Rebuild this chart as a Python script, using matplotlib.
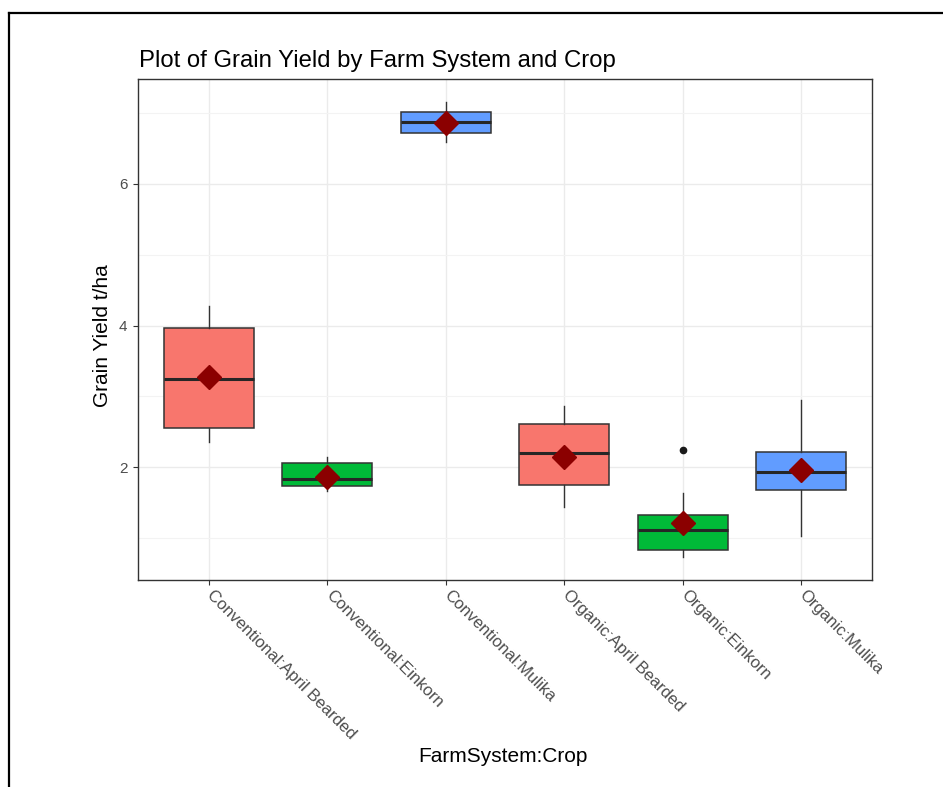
import matplotlib.pyplot as plt
from matplotlib.lines import Line2D
from matplotlib.transforms import Bbox, TransformedBbox, ScaledTranslation

# summary statistics for each FarmSystem:Crop group (t/ha)
groups = ['Conventional:April Bearded', 'Conventional:Einkorn', 'Conventional:Mulika',
          'Organic:April Bearded', 'Organic:Einkorn', 'Organic:Mulika']
crops = ['April Bearded', 'Einkorn', 'Mulika', 'April Bearded', 'Einkorn', 'Mulika']
whisker_low = [2.35, 1.66, 6.59, 1.44, 0.73, 1.03]
q1 = [2.55, 1.74, 6.72, 1.75, 0.83, 1.68]
median = [3.24, 1.83, 6.87, 2.20, 1.12, 1.94]
q3 = [3.96, 2.06, 7.01, 2.61, 1.33, 2.21]
whisker_high = [4.27, 2.14, 7.16, 2.86, 1.63, 2.95]
means = [3.27, 1.86, 6.86, 2.15, 1.21, 1.96]
outliers = [[], [], [], [], [2.24], []]

crop_colors = {'April Bearded': '#F8766D', 'Einkorn': '#00BA38', 'Mulika': '#619CFF'}

plt.rcParams['font.family'] = 'Liberation Sans'

W, H = 943, 787
fig = plt.figure(figsize=(W / 100, H / 100), dpi=100)
ax = fig.add_axes([138 / W, 1 - 580 / H, 734 / W, 501 / H])

stats = []
for i, g in enumerate(groups):
    stats.append(dict(label=g, whislo=whisker_low[i], q1=q1[i], med=median[i],
                      q3=q3[i], whishi=whisker_high[i], fliers=outliers[i]))

positions = list(range(1, len(groups) + 1))
bp = ax.bxp(stats, positions=positions, widths=0.76, patch_artist=True,
            showcaps=False, zorder=3,
            boxprops=dict(edgecolor='#333333', linewidth=1.1),
            whiskerprops=dict(color='#333333', linewidth=1.0),
            medianprops=dict(color='#262626', linewidth=2.2),
            flierprops=dict(marker='o', markerfacecolor='#1a1a1a',
                            markeredgecolor='#1a1a1a', markersize=4.5))
for patch, crop in zip(bp['boxes'], crops):
    patch.set_facecolor(crop_colors[crop])

ax.plot(positions, means, linestyle='none', marker='D', markersize=12.5,
        color='#8B0000', zorder=5)

# ggplot-like 5% expansion of the data range
all_vals = whisker_low + whisker_high + [v for o in outliers for v in o]
lo, hi = min(all_vals), max(all_vals)
pad = 0.05 * (hi - lo)
ax.set_ylim(lo - pad, hi + pad)
ax.set_xlim(0.4, len(groups) + 0.6)

ax.set_yticks([2, 4, 6])
ax.set_yticks([1, 3, 5, 7], minor=True)
ax.set_xticks(positions)
ax.set_xticklabels(groups, rotation=-45, ha='left', va='top',
                   rotation_mode='anchor', fontsize=12)
ax.grid(True, which='major', color='#EBEBEB', linewidth=1.0, zorder=0)
ax.grid(True, which='minor', axis='y', color='#F3F3F3', linewidth=0.8, zorder=0)
ax.set_axisbelow(True)

ax.tick_params(axis='both', which='major', length=3.6, width=0.8,
               color='#333333', labelcolor='#4D4D4D', pad=2.0)
ax.tick_params(axis='y', which='major', labelsize=11, pad=4.0)
ax.tick_params(axis='y', which='minor', length=0)
for s in ax.spines.values():
    s.set_color('#333333')
    s.set_linewidth(1.0)

ax.set_ylabel('Grain Yield t/ha', fontsize=15, va='center')
ax.yaxis.set_label_coords(-0.048, 0.487)
ax.set_xlabel('FarmSystem:Crop', fontsize=15, va='center')
ax.xaxis.set_label_coords(0.497, -0.353)

fig.text(139 / W, 1 - 67 / H, 'Plot of Grain Yield by Farm System and Crop',
         fontsize=17.2, va='baseline', ha='left')

# the embedded plot image ends just right of the panel
clip = TransformedBbox(Bbox([[0, 0], [882 / W, 1]]), fig.transFigure)
shift = ScaledTranslation(6 / 100, 0, fig.dpi_scale_trans)
for lbl in ax.get_xticklabels():
    lbl.set_transform(lbl.get_transform() + shift)
    lbl.set_clip_on(True)
    lbl.set_clip_box(clip)

# page frame
fig.add_artist(Line2D([9 / W, 9 / W], [0, 1 - 13 / H], transform=fig.transFigure,
                      color='black', linewidth=1.6))
fig.add_artist(Line2D([9 / W, 1], [1 - 13 / H, 1 - 13 / H], transform=fig.transFigure,
                      color='black', linewidth=1.6))

fig.savefig('out.png', dpi=100)
